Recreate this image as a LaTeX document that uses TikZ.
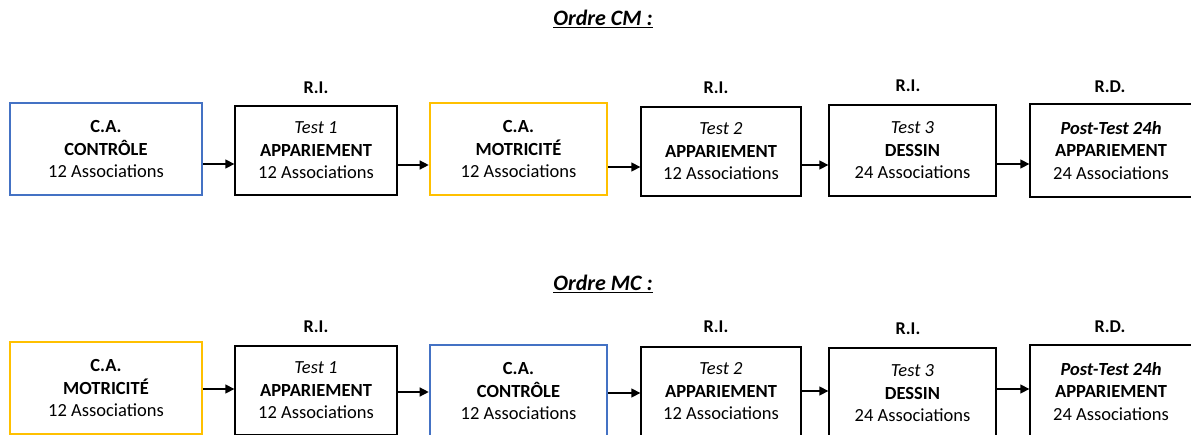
\documentclass[tikz,border=0pt]{standalone}
\usepackage{fontspec}
\setmainfont{Carlito}
\usetikzlibrary{arrows.meta}
\definecolor{cablue}{HTML}{4472C4}
\definecolor{cayellow}{HTML}{FFC000}
\tikzset{
  box/.style={draw=black, line width=1.3pt, rectangle, align=center, inner sep=0pt,
    font=\fontsize{18.5}{22.5}\selectfont},
  bluebox/.style={box, draw=cablue, line width=2.6pt},
  yellowbox/.style={box, draw=cayellow, line width=2.6pt},
  lbl/.style={font=\bfseries\fontsize{18}{20}\selectfont, inner sep=0pt},
  ttl/.style={font=\fontsize{22}{24}\selectfont, inner sep=0pt},
  arr/.style={-{Triangle[length=9pt,width=9pt]}, line width=1.3pt},
}
\begin{document}
\begin{tikzpicture}[x=1pt,y=1pt]
\useasboundingbox (0,0) rectangle (1191,-434);
\clip (0,0) rectangle (1191,-434);
% ---------- Row 1 ----------
\node[ttl] (t1) at (603,-19) {\underline{\textbf{\textit{Ordre CM :}}}};
\node[bluebox, minimum width=192pt, minimum height=92pt] (a1) at (106,-149)
  {\textbf{C.A.}\\\textbf{CONTRÔLE}\\12 Associations};
\node[box, minimum width=162pt, minimum height=89pt] (a2) at (316,-150.5)
  {\textit{Test 1}\\\textbf{APPARIEMENT}\\12 Associations};
\node[yellowbox, minimum width=177pt, minimum height=92pt] (a3) at (518.5,-149)
  {\textbf{C.A.}\\\textbf{MOTRICITÉ}\\12 Associations};
\node[box, minimum width=160pt, minimum height=89pt] (a4) at (721,-151.5)
  {\textit{Test 2}\\\textbf{APPARIEMENT}\\12 Associations};
\node[box, minimum width=167pt, minimum height=91pt] (a5) at (912.5,-150.5)
  {\textit{Test 3}\\\textbf{DESSIN}\\24 Associations};
\node[box, minimum width=162pt, minimum height=93pt] (a6) at (1111,-150.5)
  {\textbf{\textit{Post-Test 24h}}\\\textbf{APPARIEMENT}\\24 Associations};
\node[lbl] (la2) at (316,-88) {R.I.};
\node[lbl] (la4) at (716,-88) {R.I.};
\node[lbl] (la5) at (908,-86) {R.I.};
\node[lbl] (la6) at (1110,-87) {R.D.};
\draw[arr] ([yshift=-15pt]a1.east) -- ([yshift=-15pt]a1.east -| a2.west);
\draw[arr] ([yshift=-14.5pt]a2.east) -- ([yshift=-14.5pt]a2.east -| a3.west);
\draw[arr] ([yshift=-18pt]a3.east) -- ([yshift=-18pt]a3.east -| a4.west);
\draw[arr] ([yshift=-13.5pt]a4.east) -- ([yshift=-13.5pt]a4.east -| a5.west);
\draw[arr] ([yshift=-13.5pt]a5.east) -- ([yshift=-13.5pt]a5.east -| a6.west);
% ---------- Row 2 ----------
\node[ttl] (t2) at (603,-284) {\underline{\textbf{\textit{Ordre MC :}}}};
\node[yellowbox, minimum width=192pt, minimum height=92pt] (b1) at (106,-388)
  {\textbf{C.A.}\\\textbf{MOTRICITÉ}\\12 Associations};
\node[box, minimum width=162pt, minimum height=89pt] (b2) at (316,-390.5)
  {\textit{Test 1}\\\textbf{APPARIEMENT}\\12 Associations};
\node[bluebox, minimum width=177pt, minimum height=92pt] (b3) at (518.5,-391)
  {\textbf{C.A.}\\\textbf{CONTRÔLE}\\12 Associations};
\node[box, minimum width=160pt, minimum height=89pt] (b4) at (721,-391.5)
  {\textit{Test 2}\\\textbf{APPARIEMENT}\\12 Associations};
\node[box, minimum width=167pt, minimum height=91pt] (b5) at (912.5,-393.5)
  {\textit{Test 3}\\\textbf{DESSIN}\\24 Associations};
\node[box, minimum width=162pt, minimum height=93pt] (b6) at (1111,-391.5)
  {\textbf{\textit{Post-Test 24h}}\\\textbf{APPARIEMENT}\\24 Associations};
\node[lbl] (lb2) at (316,-327) {R.I.};
\node[lbl] (lb4) at (716,-327) {R.I.};
\node[lbl] (lb5) at (908,-329) {R.I.};
\node[lbl] (lb6) at (1110,-327) {R.D.};
\draw[arr] ([yshift=-1pt]b1.east) -- ([yshift=-1pt]b1.east -| b2.west);
\draw[arr] ([yshift=-1.5pt]b2.east) -- ([yshift=-1.5pt]b2.east -| b3.west);
\draw[arr] ([yshift=-2pt]b3.east) -- ([yshift=-2pt]b3.east -| b4.west);
\draw[arr] ([yshift=0.5pt]b4.east) -- ([yshift=0.5pt]b4.east -| b5.west);
\draw[arr] ([yshift=4.5pt]b5.east) -- ([yshift=4.5pt]b5.east -| b6.west);
\end{tikzpicture}
\end{document}
